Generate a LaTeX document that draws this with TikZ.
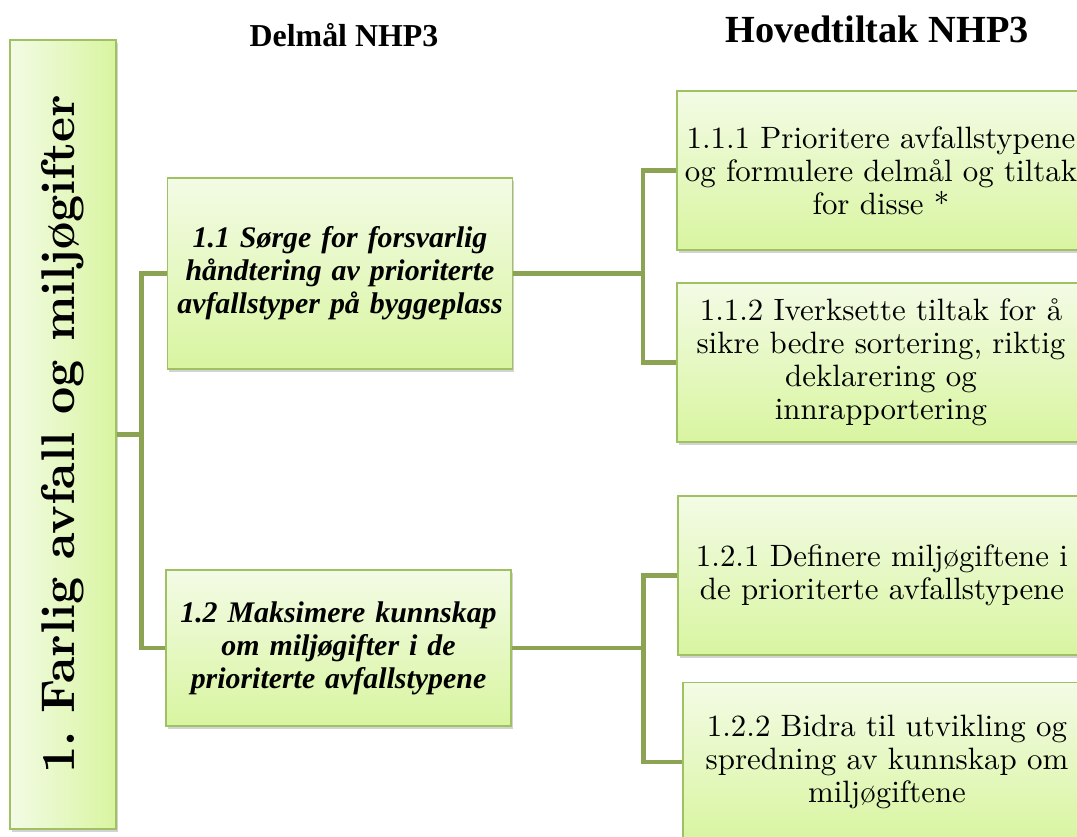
\documentclass[tikz,border=0pt]{standalone}
\usepackage{fontspec}
\setmainfont{lmroman10}[Extension=.otf, UprightFont=*-regular, BoldFont=*-bold, ItalicFont=*-italic, BoldItalicFont=*-bolditalic]
\newfontfamily\headfont{Liberation Serif}
\usetikzlibrary{shadows}
\definecolor{linegreen}{RGB}{139,163,82}
\definecolor{boxtop}{RGB}{243,251,229}
\definecolor{boxmid}{RGB}{231,248,202}
\definecolor{boxbot}{RGB}{216,245,160}
\definecolor{boxline}{RGB}{160,192,100}

\begin{document}
\begin{tikzpicture}[line join=miter]
 \tikzstyle{goalbox}=[draw=boxline, line width=1.2bp, top color=boxtop, middle color=boxmid, bottom color=boxbot,
   drop shadow={shadow xshift=1.5bp, shadow yshift=-3bp, opacity=0.35}, inner sep=0pt, align=center]
 \tikzstyle{tiltak}=[goalbox, minimum width=408bp, minimum height=159bp, text width=404bp, font=\fontsize{31}{33}\selectfont]
 \tikzstyle{delmal}=[goalbox, minimum width=345bp, text width=340bp, font=\headfont\fontsize{30}{33}\selectfont\bfseries\itshape]
 \tikzstyle{link}=[draw=linegreen, line width=4.5bp]
 \useasboundingbox (0,0) rectangle (1077bp,837bp);
 \clip (0,0) rectangle (1077bp,837bp);

 \node (theme) at (63bp,402.5bp) [goalbox, rotate=90, left color=boxtop, right color=boxbot, minimum width=789bp, minimum height=106bp]
   {\fontsize{47.5}{50}\selectfont\bfseries 1.\ Farlig avfall og miljøgifter};

 \node (delmalhead) at (344bp,802bp) {\headfont\fontsize{32}{32}\selectfont\bfseries Delmål NHP3};
 \node (tiltakhead) at (877bp,808bp) {\headfont\fontsize{38.5}{39}\selectfont\bfseries Hovedtiltak NHP3};

 \node (d11) at (340bp,563.5bp) [delmal, minimum height=191bp] {1.1 Sørge for forsvarlig\\ håndtering av prioriterte\\ avfallstyper på byggeplass};
 \node (d12) at (338.5bp,189bp) [delmal, minimum height=156bp] {1.2 Maksimere kunnskap\\ om miljøgifter i de\\ prioriterte avfallstypene};

 \node (t111) at (881bp,666.5bp) [tiltak] {1.1.1 Prioritere avfallstypene\\ og formulere delmål og tiltak\\ for disse *};
 \node (t112) at (881bp,474.5bp) [tiltak] {1.1.2 Iverksette tiltak for å\\ sikre bedre sortering, riktig\\ deklarering og\\ innrapportering};
 \node (t121) at (882bp,261.5bp) [tiltak] {1.2.1 Definere miljøgiftene i\\ de prioriterte avfallstypene};
 \node (t122) at (887bp,75bp) [tiltak] {1.2.2 Bidra til utvikling og\\ spredning av kunnskap om\\ miljøgiftene};

 \draw [link] (theme.south) -- ++(25bp,0) |- (d11.west);
 \draw [link] (theme.south) -- ++(25bp,0) |- (d12.west);
 \draw [link] (d11.east) -- ++(130bp,0) |- (t111.west);
 \draw [link] (d11.east) -- ++(130bp,0) |- (t112.west);
 \draw [link] (d12.east) -- ++(132bp,0) |- (t121.west);
 \draw [link] (d12.east) -- ++(132bp,0) |- (t122.west);

\end{tikzpicture}
\end{document}
